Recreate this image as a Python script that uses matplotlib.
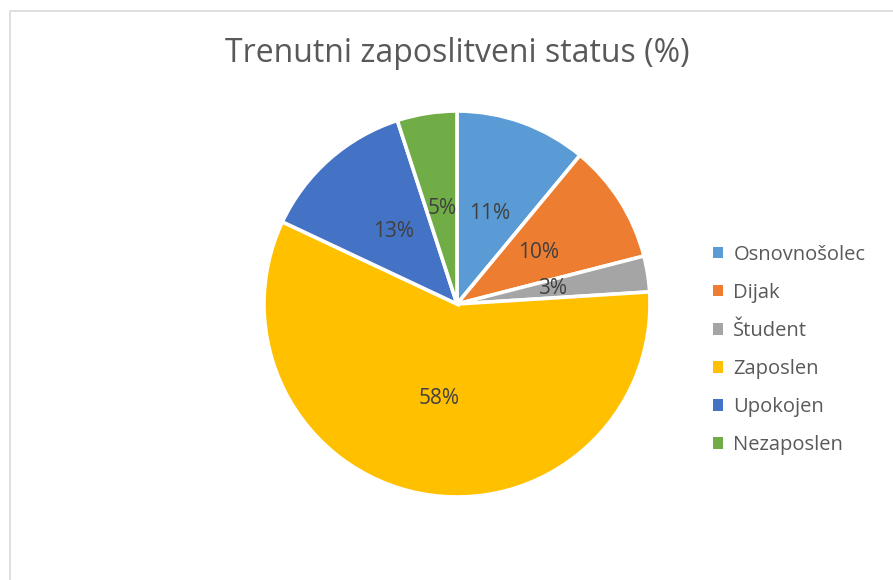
import matplotlib
matplotlib.use("Agg")
import matplotlib.pyplot as plt
from matplotlib.patches import Patch
from matplotlib.lines import Line2D

plt.rcParams['font.family'] = ['Open Sans', 'DejaVu Sans']

# data
categories = ["Osnovnošolec", "Dijak", "Študent", "Zaposlen", "Upokojen", "Nezaposlen"]
shares = [11, 10, 3, 58, 13, 5]
colors = ["#5b9bd5", "#ed7d31", "#a5a5a5", "#ffc000", "#4472c4", "#70ad47"]

W, H = 893, 580
fig = plt.figure(figsize=(W / 100, H / 100), dpi=100)

# light chart frame (runs off right/bottom edge like the original crop)
fig.add_artist(Line2D([9.5 / W, 9.5 / W, 1.0], [0.0, 1 - 10.5 / H, 1 - 10.5 / H],
                      transform=fig.transFigure, color="#d9d9d9", lw=1.2))

# pie: centre (457, 303) px, radius 193 px
cx, cy, r = 457, 304, 193
ax = fig.add_axes([(cx - r) / W, (H - cy - r) / H, 2 * r / W, 2 * r / H])
wedges, texts, autotexts = ax.pie(
    shares, colors=colors, startangle=90, counterclock=False,
    autopct="%1.0f%%", pctdistance=0.5,
    wedgeprops=dict(edgecolor="white", linewidth=2.6),
    textprops=dict(color="#404040", fontsize=15),
)
ax.set_xlim(-1, 1)
ax.set_ylim(-1, 1)

fig.text(457 / W, 1 - 54 / H, "Trenutni zaposlitveni status (%)",
         ha="center", va="center", fontsize=23, color="#595959")

handles = [Patch(facecolor=c, edgecolor="none") for c in colors]
fig.legend(handles, categories, loc="center left",
           bbox_to_anchor=(695 / W, 1 - 350 / H), frameon=False,
           fontsize=14.5, labelcolor="#595959",
           handlelength=0.5, handleheight=0.5, handletextpad=0.5,
           labelspacing=0.9)

fig.savefig("out.png", dpi=100, facecolor="white")
